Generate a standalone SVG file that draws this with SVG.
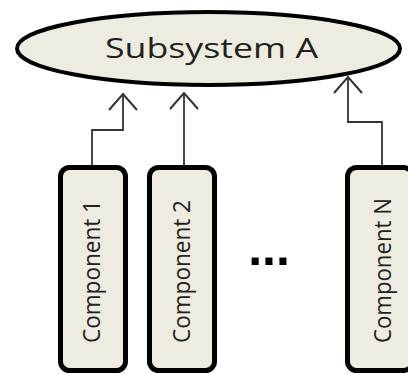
<svg xmlns="http://www.w3.org/2000/svg" width="408" height="374" viewBox="0 0 408 374">
  <style>
    .node { fill: #eeece1; stroke: #000; stroke-width: 5; }
    .sys { fill: #eeece1; stroke: #000; stroke-width: 4; }
    .label { font-family: "Open Sans", "DejaVu Sans", sans-serif; fill: #222; }
    .comp { font-size: 24.5px; text-anchor: middle; }
    .wire { fill: none; stroke: #333; stroke-width: 1.8; }
  </style>
  <defs>
    <marker id="arrow" viewBox="0 0 20 32" refX="17" refY="16" markerWidth="20" markerHeight="32" markerUnits="userSpaceOnUse" orient="auto">
      <path d="M1,2 L17,16 L1,30" fill="none" stroke="#333" stroke-width="2"/>
    </marker>
  </defs>

  <rect width="408" height="374" fill="#ffffff"/>

  <g id="subsystem-a">
    <ellipse class="sys" cx="208.5" cy="48.5" rx="191.5" ry="36.5"/>
    <text class="label" x="105" y="58" font-size="28" textLength="213" lengthAdjust="spacingAndGlyphs">Subsystem A</text>
  </g>

  <g id="component-1">
    <rect class="node" x="60.5" y="167.5" width="65" height="203" rx="9"/>
    <text class="label comp" transform="translate(100 271.5) rotate(-90)" textLength="143" lengthAdjust="spacingAndGlyphs">Component 1</text>
  </g>

  <g id="component-2">
    <rect class="node" x="149.5" y="167.5" width="65" height="203" rx="9"/>
    <text class="label comp" transform="translate(190 271.5) rotate(-90)" textLength="143" lengthAdjust="spacingAndGlyphs">Component 2</text>
  </g>

  <g id="ellipsis">
    <text x="269" y="265" font-family="Liberation Sans, Arial, sans-serif" font-weight="bold" font-size="50" text-anchor="middle" fill="#000">...</text>
  </g>

  <g id="component-n">
    <rect class="node" x="347.5" y="167.5" width="65" height="203" rx="9"/>
    <text class="label comp" transform="translate(391 270.5) rotate(-90)" textLength="145" lengthAdjust="spacingAndGlyphs">Component N</text>
  </g>

  <g id="connectors">
    <path class="wire" d="M92,165 V130 H123 V94" marker-end="url(#arrow)"/>
    <path class="wire" d="M184,165 V93" marker-end="url(#arrow)"/>
    <path class="wire" d="M382,165 V122 H348 V77" marker-end="url(#arrow)"/>
  </g>
</svg>
